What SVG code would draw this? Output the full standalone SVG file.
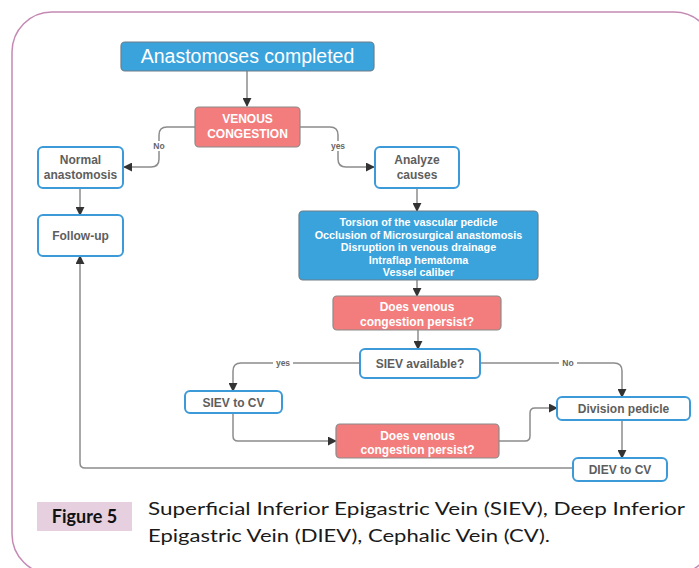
<svg xmlns="http://www.w3.org/2000/svg" width="699" height="568" viewBox="0 0 699 568">
<style>
.frame{fill:#fff;stroke:#c48ab4;stroke-width:1.5}
.blue{fill:#3aa3dc;stroke:#6e7d88;stroke-width:1.2}
.red{fill:#f37d7d;stroke:#8a8a8a;stroke-width:1.2}
.out{fill:#fff;stroke:#3d9ad8;stroke-width:2}
.wt{fill:#fff;font-family:"Liberation Sans",Arial,sans-serif;font-weight:bold;font-size:12px;text-anchor:middle}
.gt{fill:#5e5e5e;font-family:"Liberation Sans",Arial,sans-serif;font-weight:bold;font-size:12px;text-anchor:middle}
.lt{fill:#fff;font-family:"Liberation Sans",Arial,sans-serif;font-weight:bold;font-size:10.8px;text-anchor:middle}
.lab{fill:#666;font-family:"Liberation Sans",Arial,sans-serif;font-weight:bold;font-size:8.5px;text-anchor:middle}
.con path{fill:none;stroke:#8c8c8c;stroke-width:1.5}
.cap{font-family:Lato,"Open Sans",sans-serif;font-size:18px;fill:#1a1a1a}
</style>
<defs>
<marker id="ah" viewBox="0 0 10 10" refX="9" refY="5" markerWidth="9" markerHeight="9" markerUnits="userSpaceOnUse" orient="auto">
<path d="M0,0 L10,5 L0,10 Z" fill="#333"/>
</marker>
</defs>
<rect class="frame" x="12" y="12" width="702" height="562" rx="40"/>
<g class="con">
<path d="M247 71 V106" marker-end="url(#ah)"/>
<path d="M195 127 H167 Q159 127 159 135 V159 Q159 167 151 167 H124" marker-end="url(#ah)"/>
<path d="M300 127 H330 Q338 127 338 135 V159 Q338 167 346 167 H374" marker-end="url(#ah)"/>
<path d="M80 188 V215" marker-end="url(#ah)"/>
<path d="M417 188 V211" marker-end="url(#ah)"/>
<path d="M417 280 V296" marker-end="url(#ah)"/>
<path d="M418 330 V349" marker-end="url(#ah)"/>
<path d="M360 363 H241 Q233 363 233 371 V391" marker-end="url(#ah)"/>
<path d="M480 363 H614 Q622 363 622 371 V397" marker-end="url(#ah)"/>
<path d="M233 413 V436 Q233 441 238 441 H336" marker-end="url(#ah)"/>
<path d="M499 441 H525 Q530 441 530 436 V413 Q530 408 535 408 H557" marker-end="url(#ah)"/>
<path d="M622 420 V458" marker-end="url(#ah)"/>
<path d="M573 468 H85 Q80 468 80 463 V256" marker-end="url(#ah)"/>
<rect x="150" y="141" width="18" height="10" fill="#fff"/>
<text class="lab" x="159" y="149">No</text>
<rect x="328" y="141" width="20" height="10" fill="#fff"/>
<text class="lab" x="338" y="149">yes</text>
<rect x="273" y="358" width="20" height="10" fill="#fff"/>
<text class="lab" x="283" y="366">yes</text>
<rect x="559" y="358" width="18" height="10" fill="#fff"/>
<text class="lab" x="568" y="366">No</text>
</g>
<g id="n-start">
<rect class="blue" x="121" y="42" width="253" height="29" rx="4"/>
<text x="247.5" y="63" fill="#fff" font-family="Liberation Sans,Arial,sans-serif" font-size="19.5" text-anchor="middle">Anastomoses completed</text>
</g>
<g id="n-venous">
<rect class="red" x="195" y="107" width="105" height="40" rx="4"/>
<text class="wt" x="247.5" y="123">VENOUS</text>
<text class="wt" x="247.5" y="137.5">CONGESTION</text>
</g>
<g id="n-normal">
<rect class="out" x="38" y="147" width="85" height="41" rx="5"/>
<text class="gt" x="80.5" y="164">Normal</text>
<text class="gt" x="80.5" y="178.5">anastomosis</text>
</g>
<g id="n-follow">
<rect class="out" x="38" y="215" width="85" height="41" rx="5"/>
<text class="gt" x="80.5" y="239.5">Follow-up</text>
</g>
<g id="n-analyze">
<rect class="out" x="375" y="147" width="84" height="41" rx="5"/>
<text class="gt" x="417" y="164">Analyze</text>
<text class="gt" x="417" y="178.5">causes</text>
</g>
<g id="n-causes">
<rect class="blue" x="299" y="211" width="239" height="69" rx="4"/>
<text class="lt" x="418.5" y="226">Torsion of the vascular pedicle</text>
<text class="lt" x="418.5" y="238.5">Occlusion of Microsurgical anastomosis</text>
<text class="lt" x="418.5" y="251">Disruption in venous drainage</text>
<text class="lt" x="418.5" y="263.5">Intraflap hematoma</text>
<text class="lt" x="418.5" y="276">Vessel caliber</text>
</g>
<g id="n-persist1">
<rect class="red" x="333" y="296" width="168" height="34" rx="4"/>
<text class="wt" x="417" y="311">Does venous</text>
<text class="wt" x="417" y="325.5">congestion persist?</text>
</g>
<g id="n-siev">
<rect class="out" x="360" y="349" width="120" height="29" rx="5"/>
<text class="gt" x="420" y="367.5">SIEV available?</text>
</g>
<g id="n-sievcv">
<rect class="out" x="185" y="391" width="97" height="22" rx="5"/>
<text class="gt" x="233.5" y="406.5">SIEV to CV</text>
</g>
<g id="n-persist2">
<rect class="red" x="336" y="424" width="163" height="34" rx="4"/>
<text class="wt" x="417.5" y="439.5">Does venous</text>
<text class="wt" x="417.5" y="454">congestion persist?</text>
</g>
<g id="n-division">
<rect class="out" x="557" y="397" width="133" height="23" rx="5"/>
<text class="gt" x="623.5" y="413">Division pedicle</text>
</g>
<g id="n-diev">
<rect class="out" x="573" y="458" width="94" height="23" rx="5"/>
<text class="gt" x="620" y="474">DIEV to CV</text>
</g>
<g id="caption">
<rect x="37" y="502" width="95" height="29" fill="#e6cfdf"/>
<text x="84.5" y="523" font-family="Lato,'Open Sans',sans-serif" font-weight="bold" font-size="18" fill="#111" text-anchor="middle">Figure 5</text>
<text class="cap" x="148" y="515" textLength="537" lengthAdjust="spacingAndGlyphs">Superficial Inferior Epigastric Vein (SIEV), Deep Inferior</text>
<text class="cap" x="148" y="542" textLength="402" lengthAdjust="spacingAndGlyphs">Epigastric Vein (DIEV), Cephalic Vein (CV).</text>
</g>
</svg>
